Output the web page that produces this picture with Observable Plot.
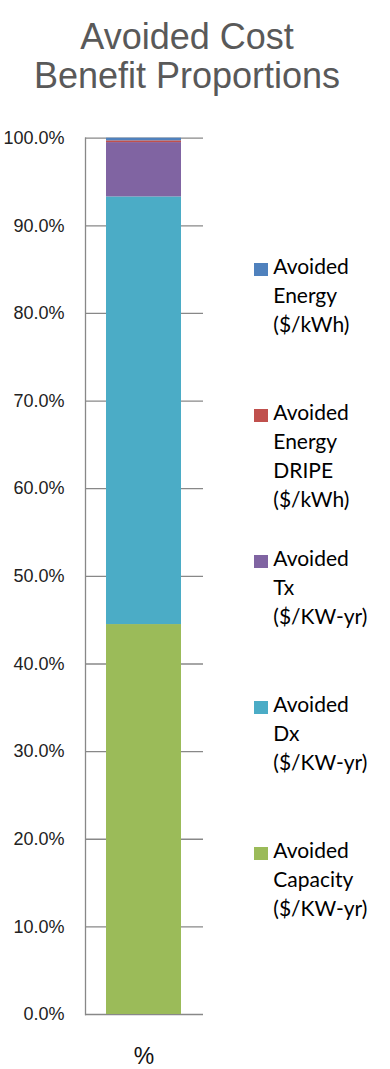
<!DOCTYPE html>
<html>
<head>
<meta charset="utf-8">
<script src="https://cdn.jsdelivr.net/npm/d3@7"></script>
<script src="https://cdn.jsdelivr.net/npm/@observablehq/plot@0.6"></script>
<style>
  body { margin: 0; background: #fff; }
  #wrap { position: relative; width: 390px; height: 1069px; overflow: hidden; }
  #title {
    position: absolute; left: 0; top: 17px; width: 374px;
    text-align: center; font-family: "Liberation Sans", Arial, sans-serif;
    font-size: 36px; line-height: 39px; color: #595959;
  }
  #chart { position: absolute; left: 0; top: 100px; }
  #legend { position: absolute; left: 254px; top: 251.4px; }
  .item { position: relative; height: 146px; }
  .swatch { position: absolute; left: 0; top: 11.6px; width: 14px; height: 13px; }
  .label {
    position: absolute; left: 19.3px; top: 0; white-space: pre;
    font-family: Lato, sans-serif; font-size: 21px; line-height: 29px; color: #000;
  }
</style>
</head>
<body>
<div id="wrap">
  <div id="title">Avoided Cost<br>Benefit Proportions</div>
  <div id="chart"></div>
  <div id="legend"></div>
</div>
<script>
// One stacked column; series listed bottom-to-top of the stack
const categories = ["%"];
const series = [
  "Avoided\nCapacity\n($/KW-yr)",
  "Avoided\nDx\n($/KW-yr)",
  "Avoided\nTx\n($/KW-yr)",
  "Avoided\nEnergy\nDRIPE\n($/kWh)",
  "Avoided\nEnergy\n($/kWh)"
];
const shares = [0.445, 0.488, 0.062, 0.002, 0.003];
const colors = ["#9BBB59", "#4BACC6", "#8064A2", "#C0504D", "#4F81BD"];
const yTicks = [0, 0.1, 0.2, 0.3, 0.4, 0.5, 0.6, 0.7, 0.8, 0.9, 1.0];

const rows = series.map((s, i) => ({category: categories[0], series: s, value: shares[i]}));

const chart = Plot.plot({
  width: 390,
  height: 969,
  marginTop: 37.7,
  marginBottom: 55,
  marginLeft: 85,
  marginRight: 187,
  style: {fontFamily: "Liberation Sans, Arial, sans-serif", fontSize: "18px", color: "#222", background: "transparent"},
  x: {domain: categories, padding: 0.2165, label: null},
  y: {domain: [0, 1], label: null},
  color: {domain: series, range: colors},
  marks: [
    Plot.ruleY(yTicks, {stroke: "#888", strokeWidth: 1.3}),
    Plot.barY(rows, {x: "category", y: "value", fill: "series"}),
    Plot.frame({anchor: "left", stroke: "#888", strokeWidth: 1.3}),
    Plot.axisY(yTicks, {tickSize: 0, tickPadding: 21, tickFormat: d3.format(".1%"), label: null, fill: "#222"}),
    Plot.axisX({tickSize: 0, tickPadding: 33, label: null, fontSize: 23, fill: "#111"})
  ]
});
document.getElementById("chart").append(chart);

// Legend: top-to-bottom mirrors the stack from its top down
const legend = document.getElementById("legend");
for (let i = series.length - 1; i >= 0; i--) {
  const item = document.createElement("div");
  item.className = "item";
  const sw = document.createElement("div");
  sw.className = "swatch";
  sw.style.background = colors[i];
  const lab = document.createElement("div");
  lab.className = "label";
  lab.textContent = series[i];
  item.append(sw, lab);
  legend.append(item);
}
</script>
</body>
</html>
